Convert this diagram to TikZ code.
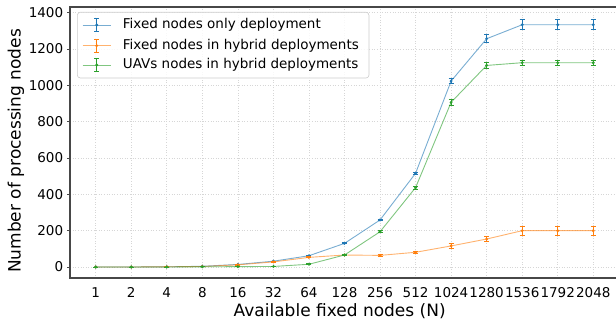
\documentclass[tikz,border=0pt]{standalone}
\usepackage{fontspec}
\setmainfont{DejaVu Sans}
\definecolor{mplblue}{HTML}{1F77B4}
\definecolor{mplorange}{HTML}{FF7F0E}
\definecolor{mplgreen}{HTML}{2CA02C}
\tikzset{
	gridline/.style={black!16, line width=0.6pt, dotted},
	spine/.style={black!72, line width=1.4pt},
	ticklabel/.style={inner sep=0pt, font=\fontsize{13.5}{15}\selectfont},
	axislabel/.style={inner sep=0pt, font=\fontsize{17}{19}\selectfont},
	series/.style={draw=#1, draw opacity=0.6, line width=0.9pt},
	errbar/.style={draw=#1, line width=0.9pt},
	dot/.style={fill=#1},
	legendbox/.style={draw=black!20, fill=white, fill opacity=0.85, rounded corners=3pt, line width=0.6pt},
}
\begin{document}
\begin{tikzpicture}[x=1pt,y=1pt]
	\useasboundingbox (0,0) rectangle (616,327);
	\begin{scope}[shift={(95.7pt,60pt)}, x=35.54pt, y=0.1816pt]
		% grid
		\foreach \i in {0,...,14}
			\draw[gridline] (\i,-60) -- (\i,1432);
		\foreach \v in {0,200,...,1400}
			\draw[gridline] (-0.72,\v) -- (14.64,\v);
		% axes
		\draw[spine] (14.64,1432) -- (-0.72,1432) -- (-0.72,-60) -- (14.64,-60);
		\foreach \v in {0,200,...,1400} {
			\draw[black!72, line width=1pt] (-0.72,\v) -- ++(-3.5pt,0);
			\node[ticklabel, anchor=east] (yt\v) at (-0.91,\v) {\v};
		}
		\foreach \n [count=\i from 0] in {1,2,4,8,16,32,64,128,256,512,1024,1280,1536,1792,2048}
			\node[ticklabel] (xt\i) at (\i,-143) {\n};
		% fixed nodes only
		\draw[series=mplblue] plot coordinates {(0,0) (1,0) (2,1) (3,4) (4,14) (5,32) (6,62) (7,130) (8,259) (9,516) (10,1024) (11,1257) (12,1334) (13,1334) (14,1334)};
		\foreach \i/\v/\e in {0/0/0,1/0/0,2/1/0,3/4/0,4/14/0,5/32/0,6/62/2,7/130/3,8/259/4,9/516/5,10/1024/13,11/1257/22,12/1334/28,13/1334/28,14/1334/28} {
			\draw[errbar=mplblue] (\i,{\v-\e}) -- (\i,{\v+\e});
			\draw[errbar=mplblue] ([xshift=-2.5pt]\i,{\v-\e}) -- ([xshift=2.5pt]\i,{\v-\e});
			\draw[errbar=mplblue] ([xshift=-2.5pt]\i,{\v+\e}) -- ([xshift=2.5pt]\i,{\v+\e});
			\fill[dot=mplblue] (\i,\v) circle (1.6pt);
		}
		% fixed nodes, hybrid
		\draw[series=mplorange] plot coordinates {(0,0) (1,0) (2,1) (3,3) (4,12) (5,28) (6,53) (7,66) (8,64) (9,81) (10,116) (11,154) (12,200) (13,200) (14,200)};
		\foreach \i/\v/\e in {0/0/0,1/0/0,2/1/0,3/3/0,4/12/1,5/28/2,6/53/3,7/66/4,8/64/4,9/81/6,10/116/13,11/154/15,12/200/24,13/200/24,14/200/24} {
			\draw[errbar=mplorange] (\i,{\v-\e}) -- (\i,{\v+\e});
			\draw[errbar=mplorange] ([xshift=-2.5pt]\i,{\v-\e}) -- ([xshift=2.5pt]\i,{\v-\e});
			\draw[errbar=mplorange] ([xshift=-2.5pt]\i,{\v+\e}) -- ([xshift=2.5pt]\i,{\v+\e});
			\fill[dot=mplorange] (\i,\v) circle (1.6pt);
		}
		% UAVs, hybrid
		\draw[series=mplgreen] plot coordinates {(0,0) (1,0) (2,0) (3,1) (4,2) (5,3) (6,15) (7,66) (8,194) (9,437) (10,907) (11,1110) (12,1125) (13,1125) (14,1125)};
		\foreach \i/\v/\e in {0/0/0,1/0/0,2/0/0,3/1/0,4/2/0,5/3/1,6/15/3,7/66/5,8/194/6,9/437/9,10/907/16,11/1110/17,12/1125/15,13/1125/15,14/1125/15} {
			\draw[errbar=mplgreen] (\i,{\v-\e}) -- (\i,{\v+\e});
			\draw[errbar=mplgreen] ([xshift=-2.5pt]\i,{\v-\e}) -- ([xshift=2.5pt]\i,{\v-\e});
			\draw[errbar=mplgreen] ([xshift=-2.5pt]\i,{\v+\e}) -- ([xshift=2.5pt]\i,{\v+\e});
			\fill[dot=mplgreen] (\i,\v) circle (1.6pt);
		}
	\end{scope}
	% axis labels
	\node[axislabel] (xlabel) at (339.7,16) {Available fixed nodes (N)};
	\node[axislabel, rotate=90] (ylabel) at (16,176) {Number of processing nodes};
	% legend
	\draw[legendbox] (77.3,249) rectangle (369,314.7);
	\foreach \c/\txt/\y [count=\k] in {mplblue/Fixed nodes only deployment/302, mplorange/Fixed nodes in hybrid deployments/281.3, mplgreen/UAVs nodes in hybrid deployments/262} {
		\draw[series=\c] (82.7,\y) -- (110.7,\y);
		\draw[errbar=\c] (96.7,\y-6.5) -- (96.7,\y+6.5);
		\draw[errbar=\c] (94.2,\y-6.5) -- (99.2,\y-6.5);
		\draw[errbar=\c] (94.2,\y+6.5) -- (99.2,\y+6.5);
		\fill[dot=\c] (96.7,\y) circle (1.6pt);
		\node[ticklabel, anchor=west] (leg\k) at (122.7,\y) {\txt};
	}
\end{tikzpicture}
\end{document}
